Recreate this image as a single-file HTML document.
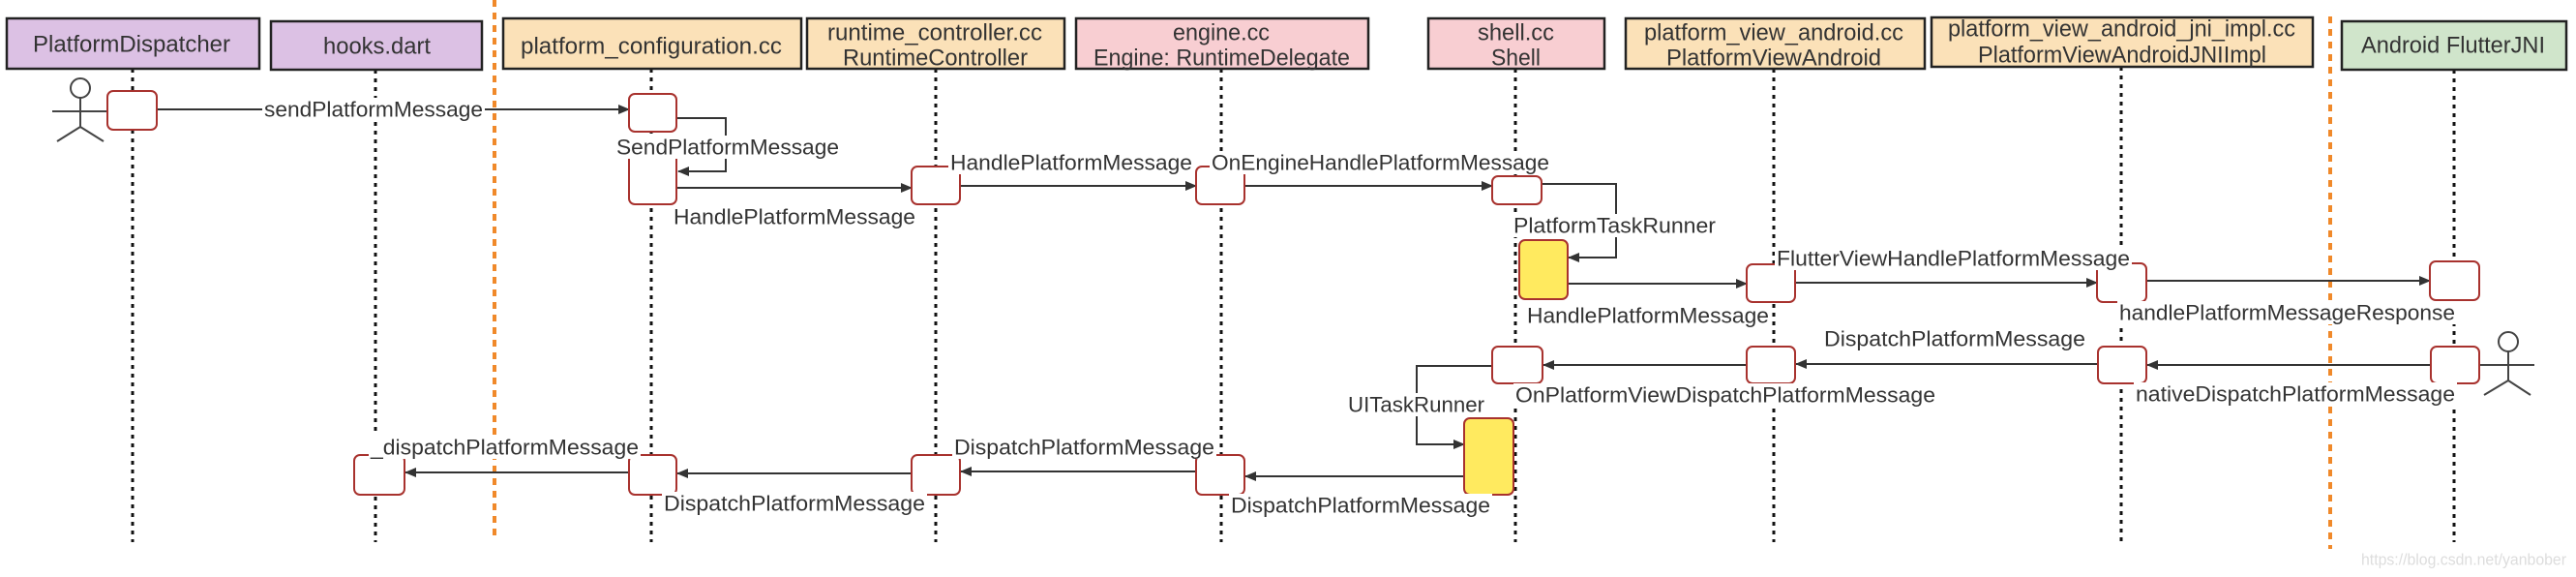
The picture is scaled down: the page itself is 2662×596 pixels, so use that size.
<!DOCTYPE html>
<html><head><meta charset="utf-8"><style>
html,body{margin:0;padding:0;background:#fff;width:2662px;height:596px;overflow:hidden}
svg text{font-family:"Liberation Sans",sans-serif;fill:#333}
</style></head><body>
<svg width="2662" height="596" viewBox="0 0 2662 596" xmlns="http://www.w3.org/2000/svg">
<defs>
<marker id="ar" markerWidth="12" markerHeight="10" refX="11" refY="5" orient="auto" markerUnits="userSpaceOnUse">
<path d="M0,0 L12,5 L0,10 z" fill="#333"/></marker>
</defs>
<g stroke="#f0892a" stroke-width="4" stroke-dasharray="7,6">
<line x1="511" y1="0" x2="511" y2="553"/>
<line x1="2408" y1="17" x2="2408" y2="567"/>
</g>
<g stroke="#111" stroke-width="3" stroke-dasharray="4,5">
<line x1="137" y1="71" x2="137" y2="560"/>
<line x1="388" y1="72" x2="388" y2="560"/>
<line x1="673" y1="71" x2="673" y2="560"/>
<line x1="967" y1="71" x2="967" y2="560"/>
<line x1="1262" y1="71" x2="1262" y2="560"/>
<line x1="1566" y1="71" x2="1566" y2="560"/>
<line x1="1833" y1="71" x2="1833" y2="560"/>
<line x1="2192" y1="69" x2="2192" y2="560"/>
<line x1="2536" y1="72" x2="2536" y2="560"/>
</g>
<g stroke="#222" stroke-width="2.5">
<rect x="7" y="19" width="261" height="52" fill="#dcc1e4"/>
<rect x="280" y="22" width="218" height="50" fill="#dcc1e4"/>
<rect x="520" y="19" width="308" height="52" fill="#fbe1b8"/>
<rect x="834" y="19" width="266" height="52" fill="#fbe1b8"/>
<rect x="1112" y="19" width="302" height="52" fill="#f8ced2"/>
<rect x="1476" y="19" width="182" height="52" fill="#f8ced2"/>
<rect x="1680" y="19" width="309" height="52" fill="#fbe1b8"/>
<rect x="1996" y="18" width="394" height="51" fill="#fbe1b8"/>
<rect x="2420" y="22" width="232" height="50" fill="#d0e5cb"/>
</g>
<g font-size="24" dominant-baseline="central">
<text x="34" y="46" textLength="204" lengthAdjust="spacingAndGlyphs">PlatformDispatcher</text>
<text x="334" y="48" textLength="111" lengthAdjust="spacingAndGlyphs">hooks.dart</text>
<text x="538" y="48" textLength="270" lengthAdjust="spacingAndGlyphs">platform_configuration.cc</text>
<text x="855" y="34" textLength="222" lengthAdjust="spacingAndGlyphs">runtime_controller.cc</text>
<text x="871" y="60" textLength="191" lengthAdjust="spacingAndGlyphs">RuntimeController</text>
<text x="1212" y="34" textLength="100" lengthAdjust="spacingAndGlyphs">engine.cc</text>
<text x="1130" y="60" textLength="265" lengthAdjust="spacingAndGlyphs">Engine: RuntimeDelegate</text>
<text x="1527" y="34" textLength="79" lengthAdjust="spacingAndGlyphs">shell.cc</text>
<text x="1541" y="60" textLength="51" lengthAdjust="spacingAndGlyphs">Shell</text>
<text x="1699" y="34" textLength="268" lengthAdjust="spacingAndGlyphs">platform_view_android.cc</text>
<text x="1722" y="60" textLength="222" lengthAdjust="spacingAndGlyphs">PlatformViewAndroid</text>
<text x="2013" y="30" textLength="359" lengthAdjust="spacingAndGlyphs">platform_view_android_jni_impl.cc</text>
<text x="2044" y="57" textLength="298" lengthAdjust="spacingAndGlyphs">PlatformViewAndroidJNIImpl</text>
<text x="2440" y="47" textLength="190" lengthAdjust="spacingAndGlyphs">Android FlutterJNI</text>
</g>
<g stroke="#444" stroke-width="2" fill="none">
<circle cx="83" cy="91" r="10" fill="#fff"/>
<line x1="83" y1="101" x2="83" y2="131"/><line x1="54" y1="115" x2="112" y2="115"/>
<line x1="83" y1="131" x2="59" y2="146"/><line x1="83" y1="131" x2="107" y2="146"/>
<circle cx="2592" cy="353" r="10" fill="#fff"/>
<line x1="2592" y1="363" x2="2592" y2="393"/><line x1="2562" y1="377" x2="2619" y2="377"/>
<line x1="2592" y1="393" x2="2567" y2="408"/><line x1="2592" y1="393" x2="2615" y2="408"/>
</g>
<g stroke="#333" stroke-width="2" fill="none">
<line x1="162" y1="113" x2="650" y2="113" marker-end="url(#ar)"/>
<polyline points="699,122 750,122 750,177 701,177" marker-end="url(#ar)"/>
<line x1="699" y1="194" x2="942" y2="194" marker-end="url(#ar)"/>
<line x1="992" y1="192" x2="1236" y2="192" marker-end="url(#ar)"/>
<line x1="1286" y1="192" x2="1542" y2="192" marker-end="url(#ar)"/>
<polyline points="1593,190 1670,190 1670,266 1621,266" marker-end="url(#ar)"/>
<line x1="1620" y1="293" x2="1805" y2="293" marker-end="url(#ar)"/>
<line x1="1855" y1="292" x2="2167" y2="292" marker-end="url(#ar)"/>
<line x1="2218" y1="290" x2="2511" y2="290" marker-end="url(#ar)"/>
<line x1="2512" y1="377" x2="2219" y2="377" marker-end="url(#ar)"/>
<line x1="2168" y1="376" x2="1856" y2="376" marker-end="url(#ar)"/>
<line x1="1805" y1="377" x2="1595" y2="377" marker-end="url(#ar)"/>
<polyline points="1542,378 1464,378 1464,459 1513,459" marker-end="url(#ar)"/>
<line x1="1513" y1="492" x2="1287" y2="492" marker-end="url(#ar)"/>
<line x1="1236" y1="487" x2="993" y2="487" marker-end="url(#ar)"/>
<line x1="942" y1="489" x2="700" y2="489" marker-end="url(#ar)"/>
<line x1="650" y1="488" x2="419" y2="488" marker-end="url(#ar)"/>
</g>
<g stroke="#a8322e" stroke-width="2" fill="#fff">
<rect x="111" y="94" width="51" height="40" rx="6"/>
<rect x="650" y="97" width="49" height="39" rx="6"/>
<rect x="650" y="158" width="49" height="53" rx="6"/>
<rect x="942" y="172" width="50" height="39" rx="6"/>
<rect x="1236" y="172" width="50" height="39" rx="6"/>
<rect x="1542" y="182" width="51" height="29" rx="6"/>
<rect x="1570" y="248" width="50" height="61" rx="6" fill="#ffea5f"/>
<rect x="1805" y="273" width="50" height="39" rx="6"/>
<rect x="2167" y="272" width="51" height="40" rx="6"/>
<rect x="2511" y="270" width="51" height="40" rx="6"/>
<rect x="2512" y="358" width="50" height="38" rx="6"/>
<rect x="2168" y="358" width="50" height="38" rx="6"/>
<rect x="1805" y="358" width="50" height="38" rx="6"/>
<rect x="1542" y="358" width="52" height="38" rx="6"/>
<rect x="1513" y="432" width="51" height="79" rx="6" fill="#ffea5f"/>
<rect x="1236" y="470" width="50" height="41" rx="6"/>
<rect x="942" y="470" width="50" height="41" rx="6"/>
<rect x="650" y="470" width="49" height="41" rx="6"/>
<rect x="366" y="470" width="52" height="41" rx="6"/>
</g>
<!-- label backgrounds -->
<g fill="#fff">
<rect x="271" y="101" width="230" height="24"/>
<rect x="635" y="140" width="234" height="24"/>
<rect x="694" y="212" width="254" height="24"/>
<rect x="980" y="156" width="254" height="24"/>
<rect x="1250" y="156" width="353" height="24"/>
<rect x="1562" y="221" width="213" height="24"/>
<rect x="1576" y="314" width="254" height="24"/>
<rect x="1834" y="255" width="369" height="24"/>
<rect x="2188" y="311" width="351" height="24"/>
<rect x="1883" y="338" width="274" height="24"/>
<rect x="2205" y="395" width="334" height="24"/>
<rect x="1564" y="396" width="438" height="24"/>
<rect x="1391" y="406" width="145" height="24"/>
<rect x="1270" y="510" width="272" height="24"/>
<rect x="984" y="450" width="273" height="24"/>
<rect x="684" y="508" width="274" height="24"/>
<rect x="381" y="450" width="281" height="24"/>
</g>
<g font-size="22" dominant-baseline="central">
<text x="273" y="113" textLength="226" lengthAdjust="spacingAndGlyphs">sendPlatformMessage</text>
<text x="637" y="152" textLength="230" lengthAdjust="spacingAndGlyphs">SendPlatformMessage</text>
<text x="696" y="224" textLength="250" lengthAdjust="spacingAndGlyphs">HandlePlatformMessage</text>
<text x="982" y="168" textLength="250" lengthAdjust="spacingAndGlyphs">HandlePlatformMessage</text>
<text x="1252" y="168" textLength="349" lengthAdjust="spacingAndGlyphs">OnEngineHandlePlatformMessage</text>
<text x="1564" y="233" textLength="209" lengthAdjust="spacingAndGlyphs">PlatformTaskRunner</text>
<text x="1578" y="326" textLength="250" lengthAdjust="spacingAndGlyphs">HandlePlatformMessage</text>
<text x="1836" y="267" textLength="365" lengthAdjust="spacingAndGlyphs">FlutterViewHandlePlatformMessage</text>
<text x="2190" y="323" textLength="347" lengthAdjust="spacingAndGlyphs">handlePlatformMessageResponse</text>
<text x="1885" y="350" textLength="270" lengthAdjust="spacingAndGlyphs">DispatchPlatformMessage</text>
<text x="2207" y="407" textLength="330" lengthAdjust="spacingAndGlyphs">nativeDispatchPlatformMessage</text>
<text x="1566" y="408" textLength="434" lengthAdjust="spacingAndGlyphs">OnPlatformViewDispatchPlatformMessage</text>
<text x="1393" y="418" textLength="141" lengthAdjust="spacingAndGlyphs">UITaskRunner</text>
<text x="1272" y="522" textLength="268" lengthAdjust="spacingAndGlyphs">DispatchPlatformMessage</text>
<text x="986" y="462" textLength="269" lengthAdjust="spacingAndGlyphs">DispatchPlatformMessage</text>
<text x="686" y="520" textLength="270" lengthAdjust="spacingAndGlyphs">DispatchPlatformMessage</text>
<text x="383" y="462" textLength="277" lengthAdjust="spacingAndGlyphs">_dispatchPlatformMessage</text>
</g>
<text x="2440" y="578" font-size="17" dominant-baseline="central" textLength="212" lengthAdjust="spacingAndGlyphs" style="fill:#ddd">https://blog.csdn.net/yanbober</text>
</svg>
</body></html>
